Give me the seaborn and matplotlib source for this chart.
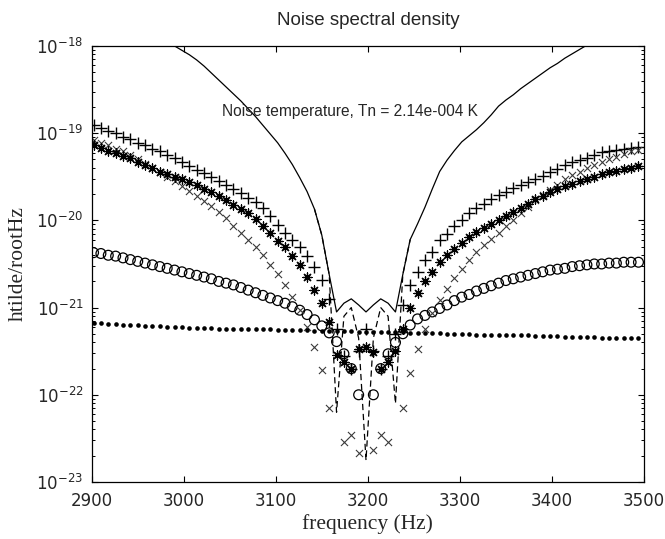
import numpy as np
import pandas as pd
import matplotlib
matplotlib.use("Agg")
import matplotlib.pyplot as plt
from matplotlib.ticker import FixedLocator, NullFormatter, LogFormatterSciNotation
import seaborn as sns

# ---------------- data (log10 of htilde/rootHz) ----------------
freq = [2902, 2910, 2918, 2926, 2934, 2942, 2950, 2958, 2966, 2974,
        2982, 2990, 2998, 3006, 3014, 3022, 3030, 3038, 3046, 3054,
        3062, 3070, 3078, 3086, 3094, 3102, 3110, 3118, 3126, 3134,
        3142, 3150, 3158, 3166, 3174, 3182, 3190, 3198, 3206, 3214,
        3222, 3230, 3238, 3246, 3254, 3262, 3270, 3278, 3286, 3294,
        3302, 3310, 3318, 3326, 3334, 3342, 3350, 3358, 3366, 3374,
        3382, 3390, 3398, 3406, 3414, 3422, 3430, 3438, 3446, 3454,
        3462, 3470, 3478, 3486, 3494]

nan = np.nan

plus_log10 = [-18.91, -18.94, -18.97, -19.00, -19.04, -19.07, -19.11, -19.14, -19.18, -19.21,
              -19.25, -19.29, -19.33, -19.38, -19.42, -19.46, -19.50, -19.55, -19.59, -19.64,
              -19.69, -19.74, -19.79, -19.86, -19.95, -20.05, -20.15, -20.23, -20.31, -20.41,
              -20.53, -20.68, -20.90, -21.25, -21.55, -21.70, -21.50, -21.25, -21.50, -21.70,
              -21.55, -21.30, -20.97, -20.74, -20.59, -20.45, -20.36, -20.23, -20.16, -20.07,
              -19.99, -19.92, -19.86, -19.81, -19.76, -19.71, -19.67, -19.63, -19.60, -19.56,
              -19.52, -19.49, -19.45, -19.41, -19.37, -19.33, -19.31, -19.28, -19.25, -19.22,
              -19.20, -19.19, -19.18, -19.17, -19.16]

star_log10 = [-19.14, -19.17, -19.20, -19.23, -19.26, -19.29, -19.33, -19.37, -19.40, -19.44,
              -19.47, -19.50, -19.53, -19.56, -19.60, -19.64, -19.68, -19.72, -19.77, -19.82,
              -19.87, -19.92, -19.98, -20.06, -20.15, -20.24, -20.31, -20.41, -20.51, -20.65,
              -20.80, -20.95, -21.16, -21.54, -21.62, -21.70, -21.47, -21.45, -21.51, -21.70,
              -21.62, -21.50, -21.24, -21.00, -20.83, -20.70, -20.59, -20.48, -20.40, -20.33,
              -20.26, -20.19, -20.13, -20.09, -20.04, -19.99, -19.95, -19.90, -19.86, -19.81,
              -19.76, -19.72, -19.68, -19.64, -19.61, -19.58, -19.55, -19.52, -19.50, -19.47,
              -19.45, -19.43, -19.41, -19.40, -19.38]

cross_log10 = [-19.08, -19.11, -19.14, -19.18, -19.21, -19.25, -19.30, -19.35, -19.40, -19.45,
               -19.50, -19.55, -19.61, -19.66, -19.72, -19.78, -19.84, -19.90, -19.97, -20.06,
               -20.14, -20.22, -20.31, -20.40, -20.51, -20.61, -20.74, -20.88, -21.03, -21.22,
               -21.45, -21.72, -22.15, nan, -22.54, -22.46, -22.67, nan, -22.63, -22.46,
               -22.54, nan, -22.15, -21.75, -21.47, -21.24, -21.06, -20.91, -20.79, -20.66,
               -20.56, -20.45, -20.36, -20.28, -20.21, -20.14, -20.07, -19.99, -19.92, -19.85,
               -19.77, -19.71, -19.65, -19.59, -19.53, -19.48, -19.44, -19.40, -19.36, -19.33,
               -19.30, -19.27, -19.24, -19.21, -19.19]

circle_log10 = [-20.37, -20.38, -20.40, -20.41, -20.43, -20.45, -20.47, -20.49, -20.51, -20.53,
                -20.55, -20.57, -20.59, -20.61, -20.63, -20.65, -20.67, -20.70, -20.72, -20.74,
                -20.77, -20.80, -20.83, -20.86, -20.89, -20.92, -20.95, -20.99, -21.03, -21.08,
                -21.14, -21.21, -21.29, -21.39, -21.53, -21.70, -22.00, nan, -22.00, -21.70,
                -21.53, -21.40, -21.30, -21.20, -21.13, -21.09, -21.05, -21.01, -20.97, -20.92,
                -20.88, -20.85, -20.81, -20.78, -20.75, -20.72, -20.69, -20.67, -20.65, -20.63,
                -20.61, -20.59, -20.57, -20.56, -20.55, -20.53, -20.52, -20.51, -20.50, -20.50,
                -20.49, -20.49, -20.48, -20.48, -20.48]

dot_log10 = [-21.18, -21.18, -21.19, -21.19, -21.20, -21.20, -21.20, -21.21, -21.21, -21.21,
             -21.22, -21.22, -21.22, -21.23, -21.23, -21.23, -21.23, -21.24, -21.24, -21.24,
             -21.25, -21.25, -21.25, -21.25, -21.25, -21.26, -21.26, -21.26, -21.26, -21.26,
             -21.27, -21.27, -21.27, -21.27, -21.27, -21.27, -21.28, -21.28, -21.28, -21.28,
             -21.28, -21.28, -21.28, -21.29, -21.29, -21.29, -21.29, -21.29, -21.30, -21.30,
             -21.30, -21.30, -21.31, -21.31, -21.31, -21.31, -21.32, -21.32, -21.32, -21.32,
             -21.33, -21.33, -21.33, -21.33, -21.34, -21.34, -21.34, -21.34, -21.34, -21.35,
             -21.35, -21.35, -21.35, -21.35, -21.35]

total_log10 = [-17.40, -17.46, -17.52, -17.58, -17.64, -17.70, -17.76, -17.82, -17.87, -17.92,
               -17.96, -18.00, -18.05, -18.10, -18.16, -18.23, -18.31, -18.39, -18.47, -18.55,
               -18.63, -18.72, -18.81, -18.91, -19.01, -19.11, -19.23, -19.36, -19.51, -19.67,
               -19.87, -20.17, -20.62, -21.05, -20.95, -20.90, -20.97, -21.05, -20.97, -20.90,
               -20.95, -21.05, -20.62, -20.22, -20.04, -19.85, -19.64, -19.44, -19.31, -19.20,
               -19.10, -19.03, -18.96, -18.88, -18.79, -18.69, -18.62, -18.56, -18.49, -18.43,
               -18.37, -18.31, -18.25, -18.20, -18.14, -18.09, -18.04, -17.99, -17.95, -17.91,
               -17.87, -17.83, -17.79, -17.75, -17.71]

dash_freq = [3142, 3150, 3158, 3166, 3174, 3182, 3190, 3198, 3206, 3214, 3222, 3230, 3238, 3246]
dash_log10 = [-19.87, -20.17, -20.62, -22.20, -21.10, -21.00, -21.35, -22.75, -21.35, -21.00,
              -21.10, -22.10, -20.62, -20.22]

x_ticks = [2900, 3000, 3100, 3200, 3300, 3400, 3500]
y_decades = [-23, -22, -21, -20, -19, -18]
title_text = "Noise spectral density"
note_text = "Noise temperature, Tn = 2.14e-004 K"
x_label = "frequency (Hz)"
y_label = "htilde/rootHz"

# ---------------- tables ----------------
df = pd.DataFrame({
    "freq": freq,
    "plus": np.power(10.0, plus_log10),
    "star": np.power(10.0, star_log10),
    "cross": np.power(10.0, cross_log10),
    "circle": np.power(10.0, circle_log10),
    "dot": np.power(10.0, dot_log10),
    "total": np.power(10.0, total_log10),
})
dash_df = pd.DataFrame({"freq": dash_freq, "val": np.power(10.0, dash_log10)})

y_major = [10.0 ** e for e in y_decades]
y_minor = [m * 10.0 ** e for e in y_decades[:-1] for m in range(2, 10)]

# ---------------- style ----------------
sns.set_style("ticks")
plt.rcParams["font.family"] = ["DejaVu Sans"]
plt.rcParams["mathtext.fontset"] = "dejavusans"

fig = plt.figure(figsize=(6.65, 5.39), dpi=100)
ax = fig.add_axes([0.1379, 0.1058, 0.8305, 0.8089])
ax.set_yscale("log")

# lines
sns.lineplot(data=df, x="freq", y="total", color="black", linewidth=0.9,
             estimator=None, sort=True, ax=ax)
sns.lineplot(data=dash_df, x="freq", y="val", color="black", linewidth=0.9,
             estimator=None, sort=True, ax=ax, dashes=False, linestyle=(0, (5, 3)))

# markers
d = df.dropna(subset=["circle"])
sns.scatterplot(data=d, x="freq", y="circle", marker="o", s=50, color="black",
                linewidth=0.9, ax=ax)
coll = ax.collections[-1]
coll.set_facecolor("none")
coll.set_edgecolor("black")

sns.scatterplot(data=df, x="freq", y="plus", marker="+", s=72, color="black",
                linewidth=1.0, ax=ax)
sns.scatterplot(data=df.dropna(subset=["cross"]), x="freq", y="cross", marker="x",
                s=26, color="#3a3a3a", linewidth=0.8, ax=ax)
sns.scatterplot(data=df, x="freq", y="star", marker=(8, 2, 0), s=42, color="black",
                linewidth=0.9, ax=ax)
sns.scatterplot(data=df, x="freq", y="star", marker="o", s=9, color="black",
                linewidth=0, ax=ax)
sns.scatterplot(data=df, x="freq", y="dot", marker="o", s=11, color="black",
                linewidth=0, ax=ax)

# axes
ax.set_xlim(2900, 3500)
ax.set_ylim(1e-23, 1e-18)
ax.xaxis.set_major_locator(FixedLocator(x_ticks))
ax.set_xticklabels([str(t) for t in x_ticks])
ax.yaxis.set_major_locator(FixedLocator(y_major))
ax.yaxis.set_major_formatter(LogFormatterSciNotation())
ax.yaxis.set_minor_locator(FixedLocator(y_minor))
ax.yaxis.set_minor_formatter(NullFormatter())
ax.xaxis.set_minor_locator(FixedLocator([]))

for s in ax.spines.values():
    s.set_linewidth(0.9)
    s.set_color("black")

ax.tick_params(axis="both", which="major", direction="in", top=True, right=True,
               length=4, width=0.8, color="black")
ax.tick_params(axis="y", which="minor", direction="in", left=True, right=True,
               length=2.2, width=0.7, color="black")
ax.tick_params(axis="x", which="major", labelsize=12, pad=7)
ax.tick_params(axis="y", which="major", labelsize=12, pad=6)

ax.set_xlabel(x_label, fontsize=15.5, family=["Liberation Serif"], labelpad=3)
ax.set_ylabel(y_label, fontsize=15.5, family=["Liberation Serif"], labelpad=6)
ax.set_title(title_text, fontsize=13.5, family=["Liberation Sans"], pad=15)

ax.text(0.236, 0.849, note_text, transform=ax.transAxes, fontsize=11.2,
        family=["Liberation Sans"], ha="left", va="center")

ax.grid(False)
fig.savefig("out.png", dpi=100, facecolor="white")
